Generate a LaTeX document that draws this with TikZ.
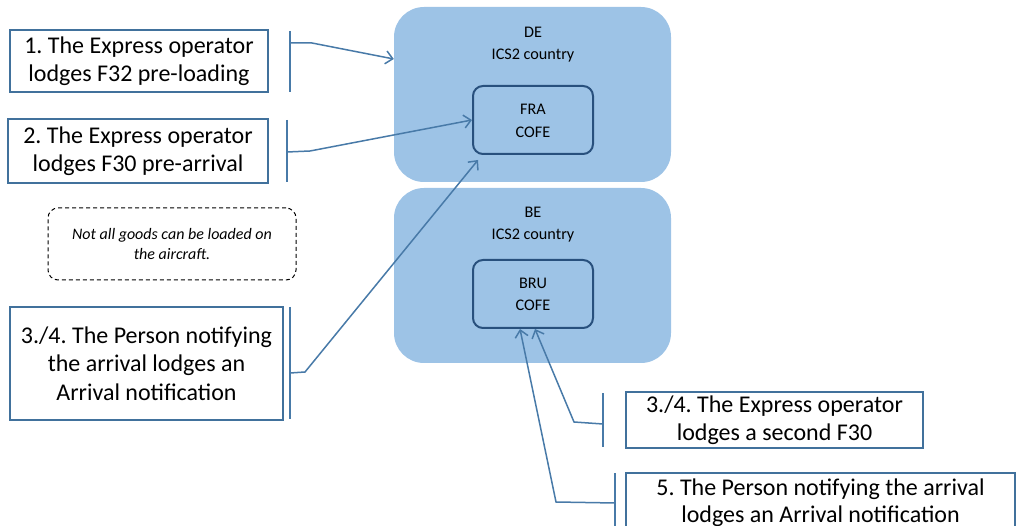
\documentclass[tikz,border=0pt]{standalone}
\usepackage{fontspec}
\setmainfont{Carlito}
\usetikzlibrary{arrows.meta}
\definecolor{boxblue}{RGB}{65,113,156}
\definecolor{lineblue}{RGB}{72,122,168}
\definecolor{fillblue}{RGB}{157,195,230}
\definecolor{cofeborder}{RGB}{40,80,125}
\begin{document}
\frenchspacing
\begin{tikzpicture}[x=1pt,y=-1pt,
  txtbox/.style={draw=boxblue, line width=2pt, fill=white, inner sep=0pt, align=center, font=\fontsize{24}{28.5}\selectfont},
  country/.style={fill=fillblue, rounded corners=30pt, inner sep=0pt},
  cofe/.style={draw=cofeborder, line width=2pt, rounded corners=10pt, inner sep=0pt},
  smalltxt/.style={inner sep=0pt, align=center, font=\fontsize{16.2}{22.5}\selectfont},
  note/.style={draw=black, line width=1pt, dash pattern=on 4pt off 3pt, rounded corners=10pt, inner sep=0pt, align=center, font=\fontsize{16}{19.5}\selectfont\itshape},
  conn/.style={draw=lineblue, line width=1.5pt},
  arr/.style={conn, -{Straight Barb[length=7pt,width=13pt,line width=1.5pt]}},
  bracket/.style={draw=lineblue, line width=1.5pt},
]
\useasboundingbox (0,0) rectangle (1017,526);

% country boxes
\node[country, minimum width=277pt, minimum height=175pt] (de) at (532.5,94.5) {};
\node[smalltxt] (detxt) at (533,44.5) {DE\\ICS2 country};
\node[cofe, minimum width=120pt, minimum height=68pt] (fra) at (533,120) {};
\node[smalltxt] (fratxt) at (533,121) {FRA\\COFE};

\node[country, minimum width=277pt, minimum height=175pt] (be) at (532.5,275.5) {};
\node[smalltxt] (betxt) at (533,224.5) {BE\\ICS2 country};
\node[cofe, minimum width=120pt, minimum height=68pt] (bru) at (533,294) {};
\node[smalltxt] (brutxt) at (533,294.5) {BRU\\COFE};

% text boxes
\node[txtbox, minimum width=258pt, minimum height=62pt] (s1) at (139,61) {1. The Express operator\\lodges F32 pre-loading};
\node[txtbox, minimum width=260pt, minimum height=64pt] (s2) at (138,151) {2. The Express operator\\lodges F30 pre-arrival};
\node[txtbox, minimum width=273pt, minimum height=113pt] (s3) at (146.5,363.5) {3./4. The Person notifying\\the arrival lodges an\\Arrival notification};
\node[note, minimum width=248pt, minimum height=72pt] (nt) at (172,244) {Not all goods can be loaded on\\the aircraft.};
\node[txtbox, minimum width=297pt, minimum height=56pt] (r1) at (774.5,420) {3./4. The Express operator\\lodges a second F30};
\node[txtbox, minimum width=389pt, minimum height=58pt] (r2) at (820.5,502) {};
\node[inner sep=0pt, align=center, font=\fontsize{24}{27.5}\selectfont] (r2txt) at (820.5,502.5) {5. The Person notifying the arrival\\lodges an Arrival notification};

% brackets
\coordinate (b1t) at (290,31); \coordinate (b1b) at (290,92);
\coordinate (b2t) at (287,120); \coordinate (b2b) at (287,182);
\coordinate (b3t) at (290,307); \coordinate (b3b) at (290,419);
\coordinate (b4t) at (603,393); \coordinate (b4b) at (603,447);
\coordinate (b5t) at (615,473); \coordinate (b5b) at (615,526);
\draw[bracket] (b1t) -- (b1b);
\draw[bracket] (b2t) -- (b2b);
\draw[bracket] (b3t) -- (b3b);
\draw[bracket] (b4t) -- (b4b);
\draw[bracket] (b5t) -- (b5b);

% connectors
\coordinate (c1) at (290,43); \coordinate (k1) at (312,43);
\draw[arr] (c1) -- (k1) -- ([yshift=35.5pt]de.west);
\coordinate (c2) at (287,152); \coordinate (k2) at (310,151);
\draw[arr] (c2) -- (k2) -- (fra.west);
\coordinate (c3) at (290,373); \coordinate (k3) at (305,372);
\draw[arr] (c3) -- (k3) -- ([xshift=6pt,yshift=-5pt]fra.south west);
\coordinate (c4) at (603,424); \coordinate (k4) at (574,422);
\draw[arr] (c4) -- (k4) -- ([xshift=2pt]bru.south);
\coordinate (c5) at (615,503); \coordinate (k5) at (556,502);
\draw[arr] (c5) -- (k5) -- ([xshift=-13pt]bru.south);
\end{tikzpicture}
\end{document}
